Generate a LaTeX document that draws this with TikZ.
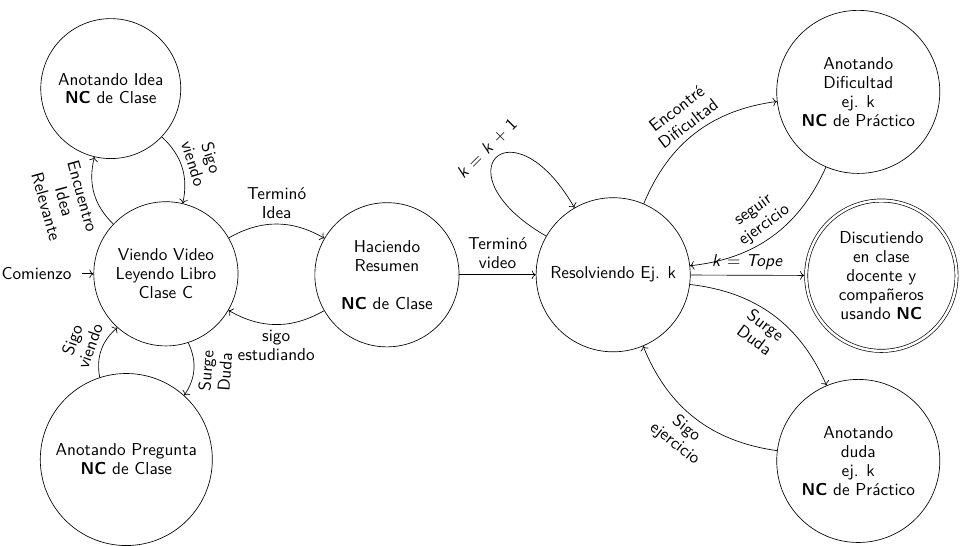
\documentclass[tikz,border=0pt]{standalone}
\usepackage{tikz}
\usetikzlibrary{positioning}
\usetikzlibrary{arrows, arrows.meta}

\begin{document}
\begin{tikzpicture}[every node/.style={font=\sffamily\fontsize{10.4}{11.4}\selectfont},
        estado/.style={circle, draw, align=center, inner sep=1pt},
        final/.style={estado, double, double distance=1.5pt, outer sep=1.2pt},
        etiq/.style={align=center}]
          \useasboundingbox (0,0) rectangle (20.39,11.58);
          % estados de la clase
          \node[estado, minimum size=3.06cm] (viendo) at (3.52,5.77) {Viendo Video\\Leyendo Libro\\Clase C};
          \node[estado, minimum size=2.97cm] (idea) at (2.35,9.70) {Anotando Idea\\\textbf{NC} de Clase};
          \node[estado, minimum size=3.65cm] (pregunta) at (2.68,1.83) {Anotando Pregunta\\\textbf{NC} de Clase};
          \node[estado, minimum size=3.06cm] (resumen) at (8.21,5.75) {Haciendo\\Resumen\\[11.5pt]\textbf{NC} de Clase};
          % estados del practico
          \node[estado, minimum size=3.27cm] (resolv) at (13.01,5.75) {Resolviendo Ej. k};
          \node[estado, minimum size=3.46cm] (dificultad) at (18.21,9.63) {Anotando\\Dificultad\\ej. k\\\textbf{NC} de Práctico};
          \node[final, minimum size=3.19cm] (discute) at (18.70,5.73) {Discutiendo\\en clase\\docente y\\compañeros\\usando \textbf{NC}};
          \node[estado, minimum size=3.46cm] (duda) at (18.21,1.80) {Anotando\\duda\\ej. k\\\textbf{NC} de Práctico};
          \node[left=7pt of viendo, inner xsep=6pt] (ini) {Comienzo};

          \draw[->] (ini) -- (viendo);
          \draw[->] (viendo) to[bend left] node[etiq, sloped, below] {Encuentro\\Idea\\Relevante} (idea);
          \draw[->] (idea) to[bend left] node[etiq, sloped, above] {Sigo\\viendo} (viendo);
          \draw[->] (viendo) to[bend left] node[etiq, above] {Terminó\\Idea} (resumen);
          \draw[->] (resumen) to[bend left] node[etiq, below] {sigo\\estudiando} (viendo);
          \draw[->] (viendo) to[bend left] node[etiq, sloped, below] {Surge\\Duda} (pregunta);
          \draw[->] (pregunta) to[bend left] node[etiq, sloped, above] {Sigo\\viendo} (viendo);
          \draw[->] (resumen) -- node[etiq, above] {Terminó\\video} (resolv);
          \draw[->] (resolv) to[out=150, in=120, looseness=8] node[sloped, above] {\textit{k} = \textit{k} + 1} (resolv);  % siguiente ejercicio
          \draw[->] (resolv) to[bend left] node[etiq, sloped, above] {Encontré\\Dificultad} (dificultad);
          \draw[->] (dificultad) to[bend left] node[etiq, sloped, above] {seguir\\ejercicio} (resolv);
          \draw[->] (resolv) -- node[above] {\textit{k} = \textit{Tope}} (discute);
          \draw[->] (resolv) to[bend left] node[etiq, sloped, below] {Surge\\Duda} (duda);
          \draw[->] (duda) to[bend left] node[etiq, sloped, below] {Sigo\\ejercicio} (resolv);
        \end{tikzpicture}
\end{document}
